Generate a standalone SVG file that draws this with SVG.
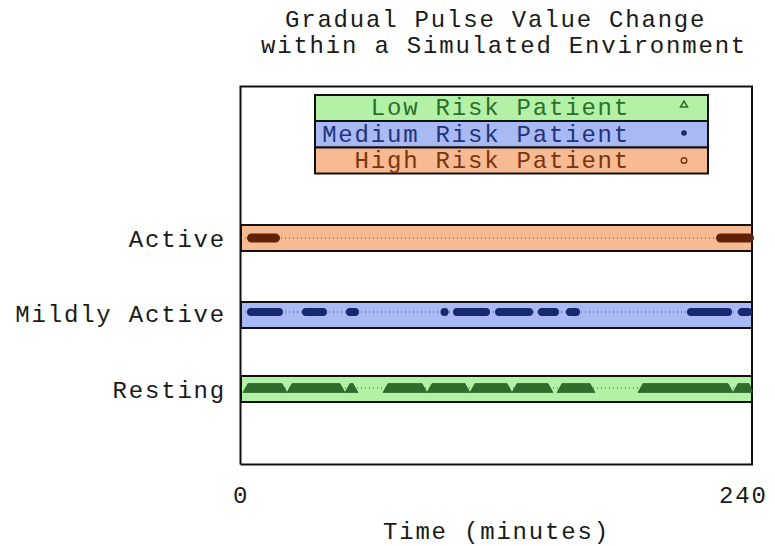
<svg xmlns="http://www.w3.org/2000/svg" width="775" height="546" viewBox="0 0 775 546">
<style>
text{font-family:"Liberation Mono","DejaVu Sans Mono",monospace;font-size:24px;letter-spacing:1.8px;fill:#1a1a1a}
.low{fill:#b3f2a6}
.med{fill:#a9b9f3}
.high{fill:#f8ba92}
.box{stroke:#111;stroke-width:2}
.tl{fill:#2d6e2a}.tm{fill:#22337a}.th{fill:#7a3410}
.dl{stroke:#2d6e2a;stroke-width:1;stroke-dasharray:1 3;fill:none}
.dm{stroke:#22337a;stroke-width:1;stroke-dasharray:1 3;fill:none}
.dh{stroke:#7a3410;stroke-width:1;stroke-dasharray:1 3;fill:none}
.sm{stroke:#17296e;stroke-width:8;stroke-linecap:round;fill:none}
.sh{stroke:#5e2206;stroke-width:9;stroke-linecap:round;fill:none}
.sl{fill:#2f6b2a;stroke:#1f4f1c;stroke-width:0.6}
</style>
<rect width="775" height="546" fill="#fff"/>
<g id="title">
<text x="285" y="27">Gradual Pulse Value Change</text>
<text x="261" y="53">within a Simulated Environment</text>
</g>
<g id="frame">
<path d="M240.5 464.5V86.5H752V464.5H240.5" fill="none" stroke="#111" stroke-width="2"/>
</g>
<g id="legend">
<rect class="low box" x="315" y="95" width="393" height="26"/>
<rect class="med box" x="315" y="121" width="393" height="26.5"/>
<rect class="high box" x="315" y="147.5" width="393" height="26"/>
<text class="tl" x="630" y="115" text-anchor="end">Low Risk Patient</text>
<text class="tm" x="630" y="142" text-anchor="end">Medium Risk Patient</text>
<text class="th" x="630" y="168" text-anchor="end">High Risk Patient</text>
<polygon points="680.5,107 684,101 687.5,107" fill="none" stroke="#2d6e2a" stroke-width="1.5"/>
<circle cx="684" cy="133" r="2.8" fill="#17296e"/>
<circle cx="684" cy="160.5" r="2.8" fill="none" stroke="#7a3410" stroke-width="1.4"/>
</g>
<g id="band-active">
<rect class="high box" x="241" y="225" width="511" height="26"/>
<text x="226" y="247" text-anchor="end">Active</text>
</g>
<g id="band-mildly">
<rect class="med box" x="241" y="302" width="511" height="26"/>
<text x="226" y="322" text-anchor="end">Mildly Active</text>
</g>
<g id="band-resting">
<rect class="low box" x="241" y="376" width="511" height="26"/>
<text x="226" y="398" text-anchor="end">Resting</text>
</g>
<g id="series">
<line class="dh" x1="241" y1="238" x2="752" y2="238"/>
<line class="dm" x1="241" y1="312" x2="752" y2="312"/>
<line class="dl" x1="241" y1="388" x2="752" y2="388"/>
<path class="sh" d="M251.5 238H275.5M720.5 238H749.5"/>
<path class="sm" d="M251 312H279M306 312H323M350 312H355M444.5 312H444.6M457 312H486M499 312H529M542 312H555M570 312H576M691 312H728M742 312H748"/>
<path class="sl" d="M243 392.5L248 383.5L282 383.5L287 392.5L292 383.5L340 383.5L345 392.5L350 383.5L353 383.5L358 392.5Z"/>
<path class="sl" d="M383 392.5L388 383.5L422 383.5L427 392.5L432 383.5L465 383.5L470 392.5L475 383.5L507 383.5L512 392.5L517 383.5L548 383.5L553 392.5Z"/>
<path class="sl" d="M557 392.5L562 383.5L590 383.5L595 392.5Z"/>
<path class="sl" d="M638 392.5L643 383.5L728 383.5L733 392.5L738 383.5L749 383.5L753 392.5Z"/>
</g>
<g id="axis-labels">
<text x="241" y="503" text-anchor="middle">0</text>
<text x="719" y="503">240</text>
<text x="383" y="539">Time (minutes)</text>
</g>
</svg>
